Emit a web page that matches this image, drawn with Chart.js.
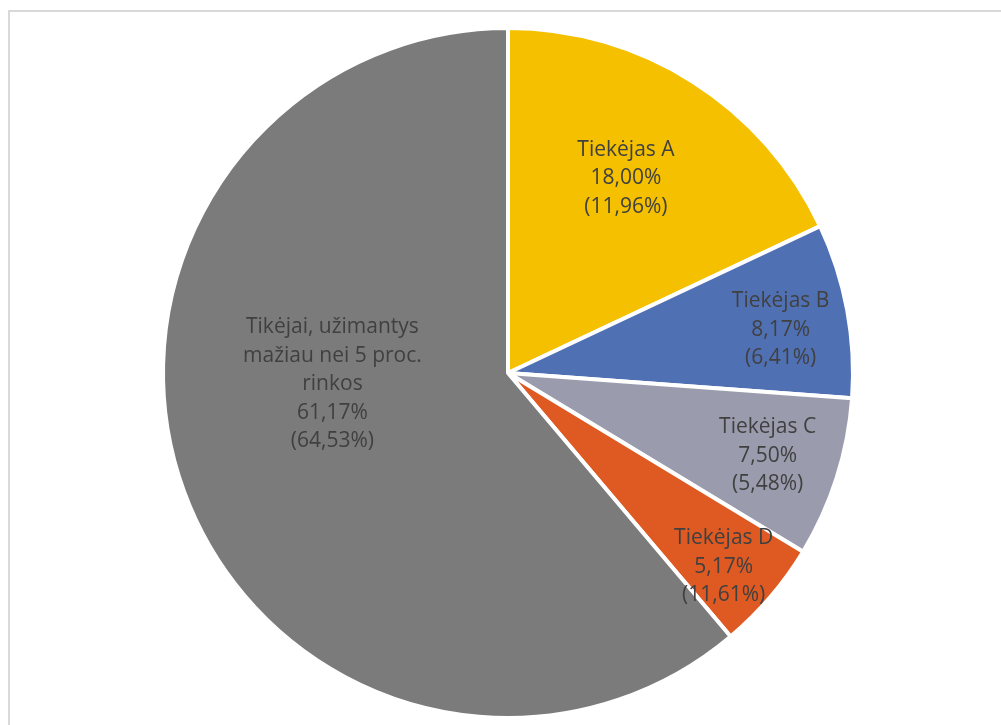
<!DOCTYPE html>
<html>
<head>
<meta charset="utf-8">
<script src="https://cdn.jsdelivr.net/npm/chart.js@4"></script>
<style>
  html, body { margin: 0; padding: 0; background: #ffffff; }
  #wrap { position: relative; width: 1001px; height: 725px; overflow: hidden; }
  #frame { position: absolute; left: 8px; top: 10px; width: 1100px; height: 800px; border: 2px solid #D9D9D9; box-sizing: border-box; }
  canvas { position: absolute; left: 0; top: 0; }
</style>
</head>
<body>
<div id="wrap">
  <div id="frame"></div>
  <canvas id="c" width="1001" height="725"></canvas>
</div>
<script>
// ---- data ----
const categories = ["Tiekėjas A", "Tiekėjas B", "Tiekėjas C", "Tiekėjas D", "Tikėjai, užimantys mažiau nei 5 proc. rinkos"];
const labelNames = [["Tiekėjas A"], ["Tiekėjas B"], ["Tiekėjas C"], ["Tiekėjas D"], ["Tikėjai, užimantys", "mažiau nei 5 proc.", "rinkos"]];
const shares = [18.00, 8.17, 7.50, 5.17, 61.17];
const sharesText = ["18,00%", "8,17%", "7,50%", "5,17%", "61,17%"];
const secondaryText = ["(11,96%)", "(6,41%)", "(5,48%)", "(11,61%)", "(64,53%)"];

// ---- styling ----
const colors = ["#F4C000", "#5070B4", "#9A9CAE", "#DE5A22", "#7B7B7B"];
const labelPlace = [
  { f: 0.66, da: -1.2 },
  { f: 0.80, da: 1.5 },
  { f: 0.79, da: 0 },
  { f: 0.84, da: 1.4 },
  { f: 0.51, da: 16.4 }
];
const FONT = "21px 'Open Sans'";
const LINE_H = 28.5;

const labelPlugin = {
  id: 'sliceLabels',
  afterDatasetsDraw(chart) {
    const ctx = chart.ctx;
    const meta = chart.getDatasetMeta(0);
    ctx.save();
    ctx.font = FONT;
    ctx.fillStyle = '#404040';
    ctx.textAlign = 'center';
    ctx.textBaseline = 'middle';
    meta.data.forEach((arc, i) => {
      const p = arc.getProps(['x', 'y', 'startAngle', 'endAngle', 'outerRadius'], true);
      const mid = (p.startAngle + p.endAngle) / 2 + labelPlace[i].da * Math.PI / 180;
      const r = p.outerRadius * labelPlace[i].f;
      const cx = p.x + Math.cos(mid) * r;
      const cy = p.y + Math.sin(mid) * r;
      const lines = labelNames[i].concat([sharesText[i], secondaryText[i]]);
      const y0 = cy - (lines.length - 1) * LINE_H / 2;
      lines.forEach((t, k) => ctx.fillText(t, cx, y0 + k * LINE_H));
    });
    ctx.restore();
  }
};

new Chart(document.getElementById('c'), {
  type: 'pie',
  data: {
    labels: categories,
    datasets: [{
      data: shares,
      backgroundColor: colors,
      borderColor: '#ffffff',
      borderWidth: 4,
      hoverOffset: 0
    }]
  },
  options: {
    responsive: false,
    animation: false,
    radius: 345,
    layout: { padding: { top: 21, bottom: 0, left: 15, right: 0 } },
    plugins: {
      legend: { display: false },
      tooltip: { enabled: false },
      title: { display: false }
    }
  },
  plugins: [labelPlugin]
});
</script>
</body>
</html>
